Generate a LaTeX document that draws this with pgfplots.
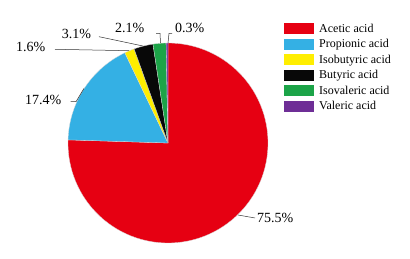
\documentclass[border=0pt]{standalone}
\usepackage{fontspec}
\setmainfont{Liberation Serif}
\usepackage{pgfplots}
\pgfplotsset{compat=1.18}
\definecolor{cAce}{RGB}{230,0,18}
\definecolor{cPro}{RGB}{52,176,228}
\definecolor{cIsb}{RGB}{255,238,0}
\definecolor{cBut}{RGB}{8,8,8}
\definecolor{cIsv}{RGB}{28,164,72}
\definecolor{cVal}{RGB}{110,46,150}
\tikzset{lbl/.style={anchor=base west, inner sep=0pt, font=\rmfamily\fontsize{14}{16}\selectfont}}
\newcommand\legfont{\rmfamily\fontsize{12}{14}\selectfont}
\begin{document}
\begin{tikzpicture}
\useasboundingbox (0,0) rectangle (410pt,259pt);
\begin{axis}[
  at={(0,0)}, anchor=south west,
  scale only axis, width=410pt, height=259pt,
  xmin=0, xmax=410, ymin=0, ymax=259,
  hide axis, clip=false,
  legend image code/.code={\fill[#1,draw=none] (0pt,-5.5pt) rectangle (30pt,5.5pt);},
  legend cell align=left,
  legend style={at={(axis cs:284,236)}, anchor=north west, draw=none, fill=none,
    inner sep=0pt, row sep=4.5pt,
    nodes={inner sep=0pt, text height=9pt, text depth=2pt},
    /tikz/every odd column/.append style={column sep=5pt}},
  samples=90,
]
% percentages: 75.5, 17.4, 1.6, 3.1, 2.1, 0.3 ; clockwise from 12 o'clock
\addplot[fill=cAce, draw=white!70!gray, line width=0.3pt, domain={90}:{90-3.6*75.5}]
  ({168+100*cos(x)},{116+100*sin(x)}) -- (axis cs:168,116) -- cycle;
\addlegendentry{\legfont Acetic acid}
\addplot[fill=cPro, draw=white!70!gray, line width=0.3pt, domain={90-3.6*75.5}:{90-3.6*92.9}]
  ({168+100*cos(x)},{116+100*sin(x)}) -- (axis cs:168,116) -- cycle;
\addlegendentry{\legfont Propionic acid}
\addplot[fill=cIsb, draw=white!70!gray, line width=0.3pt, domain={90-3.6*92.9}:{90-3.6*94.5}]
  ({168+100*cos(x)},{116+100*sin(x)}) -- (axis cs:168,116) -- cycle;
\addlegendentry{\legfont Isobutyric acid}
\addplot[fill=cBut, draw=white!70!gray, line width=0.3pt, domain={90-3.6*94.5}:{90-3.6*97.6}]
  ({168+100*cos(x)},{116+100*sin(x)}) -- (axis cs:168,116) -- cycle;
\addlegendentry{\legfont Butyric acid}
\addplot[fill=cIsv, draw=white!70!gray, line width=0.3pt, domain={90-3.6*97.6}:{90-3.6*99.7}]
  ({168+100*cos(x)},{116+100*sin(x)}) -- (axis cs:168,116) -- cycle;
\addlegendentry{\legfont Isovaleric acid}
\addplot[fill=cVal, draw=white!70!gray, line width=0.3pt, domain={90-3.6*99.7}:{90-3.6*100}, samples=5]
  ({168+100*cos(x)},{116+100*sin(x)}) -- (axis cs:168,116) -- cycle;
\addlegendentry{\legfont Valeric acid}
% leader lines
\draw[black!80, line width=0.5pt] (axis cs:238,44) -- (axis cs:255,41);
\draw[black!80, line width=0.5pt] (axis cs:70.7,157.3) -- (axis cs:76,157.3) -- (axis cs:84,170.6);
\draw[black!80, line width=0.5pt] (axis cs:55,209.7) -- (axis cs:129,208.3);
\draw[black!80, line width=0.5pt] (axis cs:99,222.3) -- (axis cs:143.4,212.9);
\draw[black!80, line width=0.5pt] (axis cs:156,225.7) -- (axis cs:160,225.7) -- (axis cs:160.5,216);
\draw[black!80, line width=0.5pt] (axis cs:172,225.7) -- (axis cs:169,225.7) -- (axis cs:168,216);
% labels
\node[lbl] at (axis cs:257,36) {75.5\%};
\node[lbl] at (axis cs:25,154) {17.4\%};
\node[lbl] at (axis cs:16,207.3) {1.6\%};
\node[lbl] at (axis cs:61.7,220.7) {3.1\%};
\node[lbl] at (axis cs:115,226.7) {2.1\%};
\node[lbl] at (axis cs:175,226.7) {0.3\%};
\end{axis}
\end{tikzpicture}
\end{document}
